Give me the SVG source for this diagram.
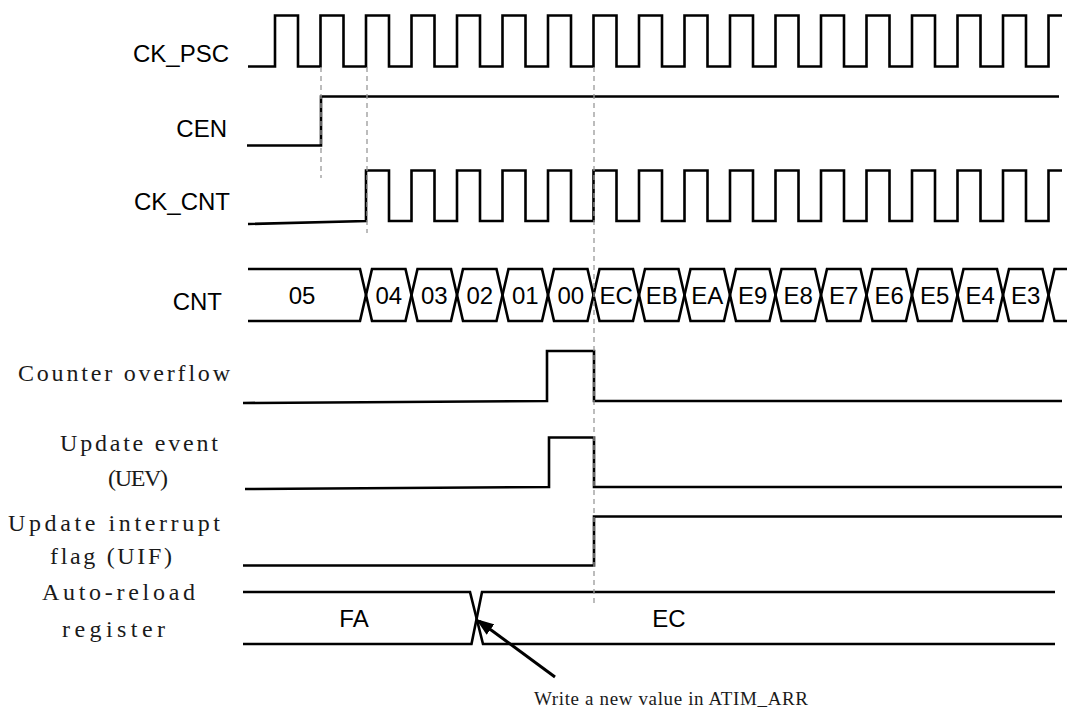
<svg xmlns="http://www.w3.org/2000/svg" width="1067" height="711" viewBox="0 0 1067 711">
<style>
.bg{fill:#ffffff}
.w{fill:none;stroke:#000;stroke-width:2.6;stroke-linejoin:miter;stroke-linecap:butt}
.dash{fill:none;stroke:#999;stroke-width:1.3;stroke-dasharray:5 4}
.sans{font-family:"Liberation Sans",Arial,sans-serif;font-size:24px;fill:#000}
.val{font-family:"Liberation Sans",Arial,sans-serif;font-size:24px;fill:#000;text-anchor:middle}
.serif{font-family:"Liberation Serif","Times New Roman",serif;font-size:24px;fill:#1a1a1a}
.note{font-family:"Liberation Serif","Times New Roman",serif;font-size:19px;fill:#1a1a1a}
.arrow{fill:none;stroke:#000;stroke-width:3}
</style>
<defs>
<marker id="ah" viewBox="0 0 18 13" refX="14" refY="6.5" markerWidth="18" markerHeight="13" markerUnits="userSpaceOnUse" orient="auto">
<path d="M0,0 L18,6.5 L0,13 z" fill="#000"/>
</marker>
</defs>
<rect class="bg" x="0" y="0" width="1067" height="711"/>

<g id="ck_psc">
<text class="sans" x="229" y="62" text-anchor="end">CK_PSC</text>
<path class="w" d="M248,66.5 H275 V15.5 H298 V66.5 H320.5 V15.5 H343.5 V66.5 H366 V15.5 H389 V66.5 H411.5 V15.5 H434.5 V66.5 H457 V15.5 H480 V66.5 H502.5 V15.5 H525.5 V66.5 H548 V15.5 H571 V66.5 H593.5 V15.5 H616.5 V66.5 H639 V15.5 H662 V66.5 H684.5 V15.5 H707.5 V66.5 H730 V15.5 H753 V66.5 H775.5 V15.5 H798.5 V66.5 H821 V15.5 H844 V66.5 H866.5 V15.5 H889.5 V66.5 H912 V15.5 H935 V66.5 H957.5 V15.5 H980.5 V66.5 H1003 V15.5 H1026 V66.5 H1048.5 V15.5 H1062"/>
</g>

<g id="cen">
<text class="sans" x="227" y="137" text-anchor="end">CEN</text>
<path class="w" d="M247,145.5 H321 V96.5 H1059"/>
</g>

<g id="ck_cnt">
<text class="sans" x="230" y="210" text-anchor="end">CK_CNT</text>
<path class="w" d="M248,224 L366,221 V170.5 H389 V221 H411.5 V170.5 H434.5 V221 H457 V170.5 H480 V221 H502.5 V170.5 H525.5 V221 H548 V170.5 H571 V221 H593.5 V170.5 H616.5 V221 H639 V170.5 H662 V221 H684.5 V170.5 H707.5 V221 H730 V170.5 H753 V221 H775.5 V170.5 H798.5 V221 H821 V170.5 H844 V221 H866.5 V170.5 H889.5 V221 H912 V170.5 H935 V221 H957.5 V170.5 H980.5 V221 H1003 V170.5 H1026 V221 H1048.5 V170.5 H1062"/>
</g>

<g id="cnt">
<text class="sans" x="222" y="310" text-anchor="end">CNT</text>
<path class="w" d="M248,269 H360 L372,321 H405.5 L417.5,269 H451 L463,321 H496.5 L508.5,269 H542 L554,321 H587.5 L599.5,269 H633 L645,321 H678.5 L690.5,269 H724 L736,321 H769.5 L781.5,269 H815 L827,321 H860.5 L872.5,269 H906 L918,321 H951.5 L963.5,269 H997 L1009,321 H1042.5 L1054.5,269 H1067"/>
<path class="w" d="M248,321 H360 L372,269 H405.5 L417.5,321 H451 L463,269 H496.5 L508.5,321 H542 L554,269 H587.5 L599.5,321 H633 L645,269 H678.5 L690.5,321 H724 L736,269 H769.5 L781.5,321 H815 L827,269 H860.5 L872.5,321 H906 L918,269 H951.5 L963.5,321 H997 L1009,269 H1042.5 L1054.5,321 H1067"/>
<text class="val" x="302" y="304">05</text>
<text class="val" x="388.75" y="304">04</text>
<text class="val" x="434.25" y="304">03</text>
<text class="val" x="479.75" y="304">02</text>
<text class="val" x="525.25" y="304">01</text>
<text class="val" x="570.75" y="304">00</text>
<text class="val" x="616.25" y="304">EC</text>
<text class="val" x="661.75" y="304">EB</text>
<text class="val" x="707.25" y="304">EA</text>
<text class="val" x="752.75" y="304">E9</text>
<text class="val" x="798.25" y="304">E8</text>
<text class="val" x="843.75" y="304">E7</text>
<text class="val" x="889.25" y="304">E6</text>
<text class="val" x="934.75" y="304">E5</text>
<text class="val" x="980.25" y="304">E4</text>
<text class="val" x="1025.75" y="304">E3</text>
</g>

<g id="counter_overflow">
<text class="serif" x="18" y="381" textLength="212" lengthAdjust="spacing">Counter overflow</text>
<path class="w" d="M243,403 L547,401 V351 H594 V401 H1062"/>
</g>

<g id="uev">
<text class="serif" x="60" y="451" textLength="158" lengthAdjust="spacing">Update event</text>
<text class="serif" x="108" y="486" textLength="60" lengthAdjust="spacing">(UEV)</text>
<path class="w" d="M245,489 L549,487 V437.5 H594 V487 H1062"/>
</g>

<g id="uif">
<text class="serif" x="8" y="531" textLength="212" lengthAdjust="spacing">Update interrupt</text>
<text class="serif" x="50" y="564" textLength="122" lengthAdjust="spacing">flag (UIF)</text>
<path class="w" d="M243,565.5 H594 V516.5 H1062"/>
</g>

<g id="arr">
<text class="serif" x="42" y="600" textLength="153" lengthAdjust="spacing">Auto-reload</text>
<text class="serif" x="62" y="637" textLength="103" lengthAdjust="spacing">register</text>
<path class="w" d="M243,592 H470 L483,644 H1055"/>
<path class="w" d="M243,644 H471.5 L482,592 H1055"/>
<text class="val" x="354" y="627">FA</text>
<text class="val" x="669" y="627">EC</text>
</g>

<g id="connectors">
<line class="dash" x1="321" y1="67" x2="321" y2="178"/>
<line class="dash" x1="367" y1="67" x2="367" y2="233"/>
<line class="dash" x1="594" y1="67" x2="594" y2="607"/>
<line class="arrow" x1="555" y1="677" x2="479.2" y2="621.3" marker-end="url(#ah)"/>
</g>

<g id="note">
<text class="note" x="534" y="705" textLength="274" lengthAdjust="spacing">Write a new value in ATIM_ARR</text>
</g>
</svg>
